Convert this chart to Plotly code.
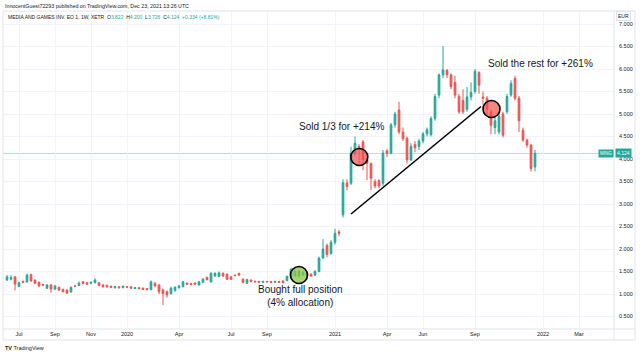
import pandas as pd
import plotly.graph_objects as go

# ---------------- data (weekly candles, XETR: MING) ----------------
week_start = "2019-06-10"
n_weeks = 133
opens = [1.31, 1.33, 1.38, 1.17, 1.28, 1.27, 1.43, 1.31, 1.26, 1.21,
         1.13, 1.20, 1.11, 1.15, 1.10, 1.09, 1.05, 1.18, 1.19, 1.27,
         1.25, 1.24, 1.25, 1.25, 1.20, 1.19, 1.17, 1.14, 1.16, 1.14,
         1.16, 1.16, 1.12, 1.14, 1.13, 1.12, 1.10, 1.24, 1.20, 1.09,
         1.05, 1.01, 1.08, 1.14, 1.16, 1.24, 1.23, 1.24, 1.20, 1.26,
         1.37, 1.27, 1.40, 1.39, 1.46, 1.44, 1.38, 1.42, 1.46, 1.33,
         1.24, 1.31, 1.28, 1.28, 1.26, 1.28, 1.28, 1.26, 1.28, 1.29,
         1.30, 1.36, 1.40, 1.40, 1.42, 1.46, 1.44, 1.42, 1.50, 1.80,
         2.08, 1.90, 2.15, 2.38, 2.76, 3.47, 3.46, 4.13, 4.28, 4.38,
         3.98, 3.90, 3.50, 3.52, 3.46, 4.18, 4.13, 4.76, 5.09, 4.60,
         4.46, 3.98, 4.32, 4.28, 4.40, 4.56, 4.54, 4.90, 5.42, 5.87,
         5.97, 5.87, 5.70, 5.39, 5.30, 5.10, 5.38, 5.50, 5.92, 5.38,
         5.35, 5.05, 4.70, 4.60, 5.00, 5.05, 5.42, 5.79, 5.35, 4.64,
         4.42, 4.31, 3.822]
highs = [1.42, 1.42, 1.40, 1.27, 1.30, 1.45, 1.45, 1.32, 1.28, 1.23,
         1.22, 1.22, 1.19, 1.16, 1.12, 1.10, 1.16, 1.20, 1.28, 1.29,
         1.26, 1.27, 1.35, 1.27, 1.22, 1.21, 1.19, 1.18, 1.17, 1.19,
         1.17, 1.17, 1.16, 1.15, 1.14, 1.13, 1.30, 1.26, 1.22, 1.12,
         1.08, 1.16, 1.17, 1.20, 1.29, 1.26, 1.25, 1.26, 1.29, 1.35,
         1.38, 1.48, 1.48, 1.50, 1.48, 1.46, 1.40, 1.43, 1.47, 1.35,
         1.34, 1.32, 1.30, 1.29, 1.29, 1.29, 1.29, 1.29, 1.29, 1.30,
         1.41, 1.58, 1.55, 1.55, 1.52, 1.48, 1.46, 1.53, 1.83, 2.22,
         2.12, 2.20, 2.45, 2.42, 3.55, 3.55, 4.27, 4.50, 4.33, 4.42,
         4.05, 3.92, 3.55, 3.55, 4.20, 4.22, 4.80, 5.05, 5.27, 4.70,
         4.50, 4.35, 4.40, 4.45, 4.60, 4.70, 4.95, 5.45, 5.90, 6.51,
         6.00, 5.90, 5.85, 5.45, 5.55, 5.60, 5.70, 6.00, 5.95, 5.50,
         5.40, 5.10, 4.95, 5.00, 5.05, 5.45, 5.75, 5.85, 5.40, 4.70,
         4.45, 4.33, 4.200]
lows = [1.29, 1.30, 1.08, 1.15, 1.24, 1.25, 1.27, 1.22, 1.16, 1.18,
        1.11, 1.03, 1.09, 1.07, 1.04, 1.00, 1.02, 1.15, 1.18, 1.21,
        1.20, 1.22, 1.24, 1.17, 1.14, 1.14, 1.13, 1.12, 1.12, 1.13,
        1.13, 1.12, 1.11, 1.10, 1.09, 1.08, 1.08, 1.15, 1.00, 0.75,
        0.92, 0.98, 1.05, 1.12, 1.15, 1.20, 1.19, 1.20, 1.19, 1.24,
        1.30, 1.25, 1.38, 1.37, 1.38, 1.31, 1.31, 1.39, 1.40, 1.24,
        1.22, 1.26, 1.26, 1.25, 1.25, 1.26, 1.25, 1.25, 1.25, 1.24,
        1.28, 1.34, 1.38, 1.37, 1.40, 1.38, 1.38, 1.40, 1.48, 1.78,
        1.82, 1.87, 2.10, 2.28, 2.70, 3.30, 3.42, 4.05, 3.90, 3.75,
        3.53, 3.31, 3.35, 3.35, 3.40, 4.05, 4.10, 4.70, 4.55, 4.40,
        3.90, 3.95, 4.15, 4.20, 4.35, 4.50, 4.50, 4.85, 5.35, 5.80,
        5.80, 5.55, 5.35, 5.00, 5.00, 5.05, 5.30, 5.45, 5.45, 5.20,
        4.95, 4.55, 4.55, 4.55, 4.48, 5.00, 5.38, 5.30, 4.60, 4.38,
        4.25, 3.72, 3.726]
closes = [1.38, 1.36, 1.22, 1.25, 1.26, 1.42, 1.29, 1.24, 1.18, 1.20,
          1.20, 1.11, 1.18, 1.09, 1.05, 1.02, 1.15, 1.17, 1.24, 1.23,
          1.22, 1.26, 1.31, 1.19, 1.16, 1.16, 1.15, 1.16, 1.14, 1.17,
          1.15, 1.13, 1.14, 1.12, 1.10, 1.10, 1.27, 1.18, 1.05, 1.01,
          0.98, 1.13, 1.15, 1.18, 1.27, 1.22, 1.21, 1.22, 1.27, 1.33,
          1.32, 1.46, 1.46, 1.47, 1.40, 1.33, 1.33, 1.41, 1.42, 1.26,
          1.32, 1.28, 1.27, 1.26, 1.28, 1.27, 1.26, 1.28, 1.26, 1.25,
          1.39, 1.55, 1.50, 1.50, 1.48, 1.41, 1.40, 1.50, 1.80, 2.00,
          1.88, 2.15, 2.35, 2.35, 3.47, 3.39, 4.13, 4.35, 4.25, 3.98,
          3.90, 3.57, 3.40, 3.40, 4.13, 4.12, 4.76, 5.00, 4.60, 4.45,
          3.98, 4.28, 4.25, 4.40, 4.56, 4.65, 4.90, 5.39, 5.87, 5.98,
          5.87, 5.61, 5.42, 5.05, 5.05, 5.38, 5.48, 5.95, 5.64, 5.35,
          5.10, 4.75, 4.85, 4.95, 4.53, 5.39, 5.68, 5.35, 4.85, 4.42,
          4.31, 3.79, 4.124]

price_ticks = [0.5, 1.0, 1.5, 2.0, 2.5, 3.0, 3.5, 4.0, 4.5, 5.0, 5.5, 6.0, 6.5, 7.0]
date_ticks = ["2019-07-01", "2019-09-02", "2019-11-04", "2020-01-06", "2020-04-06",
              "2020-07-06", "2020-09-07", "2021-01-04", "2021-04-05", "2021-06-07",
              "2021-09-06", "2022-01-03", "2022-03-07"]
date_labels = ["Jul", "Sep", "Nov", "2020", "Apr", "Jul", "Sep", "2021", "Apr", "Jun",
               "Sep", "2022", "Mar"]
last_price = 4.124

dates = pd.date_range(week_start, periods=n_weeks, freq="7D")

# ---------------- layout helpers (pixel geometry) ----------------
W, H = 640, 355
PL, PR, PT, PB = 3, 614, 12, 329          # plot area in pixels
ORIGIN = pd.Timestamp("2020-01-06")        # date at pixel 127
ORIGIN_PX = 127
PX_PER_DAY = 4 / 7


def px_date(px):
    return ORIGIN + pd.Timedelta(days=(px - ORIGIN_PX) / PX_PER_DAY)


def px_price(py):
    return 7 - (py - 24) / 45


def fx(px):
    return (px - PL) / (PR - PL)


def fy(py):
    return (PB - py) / (PB - PT)


GREEN = "#26a69a"
RED = "#ef5350"
TXT = "#131722"
FONT = "Liberation Sans"

fig = go.Figure()
fig.add_trace(go.Candlestick(
    x=dates, open=opens, high=highs, low=lows, close=closes,
    increasing=dict(line=dict(color=GREEN, width=1), fillcolor=GREEN),
    decreasing=dict(line=dict(color=RED, width=1), fillcolor=RED),
    whiskerwidth=0, showlegend=False, hoverinfo="skip",
))

shapes = []
# last price line
shapes.append(dict(type="line", xref="paper", yref="y", x0=0, x1=1, y0=last_price, y1=last_price,
                   line=dict(color="rgba(38,166,154,0.35)", width=1), layer="below"))
# trend line
shapes.append(dict(type="line", xref="x", yref="y",
                   x0=px_date(351), y0=px_price(214), x1=px_date(481), y1=px_price(106.5),
                   line=dict(color="#000000", width=1.6), layer="above"))
# circles
for cx, cy, fill in [(299, 275, "rgba(139,195,74,0.75)"),
                     (359.3, 157, "rgba(239,83,80,0.7)"),
                     (491.5, 109, "rgba(239,83,80,0.7)")]:
    shapes.append(dict(type="circle", xref="x", yref="y", xsizemode="pixel", ysizemode="pixel",
                       xanchor=px_date(cx), yanchor=px_price(cy), x0=-8.5, x1=8.5, y0=-8.5, y1=8.5,
                       fillcolor=fill, line=dict(color="#000000", width=1.6), layer="above"))
# frame
FR = "#e0e3eb"
for x0, y0, x1, y1 in [(3, 11, 635, 11), (3, 340, 635, 340), (3, 11, 3, 340), (635, 11, 635, 340),
                       (614, 11, 614, 340), (3, 329, 635, 329)]:
    shapes.append(dict(type="line", xref="paper", yref="paper", x0=fx(x0), x1=fx(x1),
                       y0=fy(y0), y1=fy(y1), line=dict(color=FR, width=1), layer="above"))

annotations = []


def note(text, px, py, size, color=TXT, xanchor="center", **kw):
    annotations.append(dict(text=text, x=fx(px), y=fy(py), xref="paper", yref="paper",
                            xanchor=xanchor, yanchor="middle", showarrow=False,
                            font=dict(family=FONT, size=size, color=color), **kw))


note("InnocentGuest72293 published on TradingView.com, Dec 23, 2021 13:26 UTC", 3, 6, 5.3, xanchor="left")
g = lambda v: f"<span style='color:{GREEN}'>{v}</span>"
legend = ("MEDIA AND GAMES INV. EO 1, 1W, XETR  O" + g("3.822") + "  H" + g("4.200") + "  L" + g("3.726")
          + "  C" + g("4.124") + "  " + g("+0.334 (+8.81%)"))
note(legend, 6, 17, 5.0, xanchor="left")
note("<b>TV</b> TradingView", 3, 348, 5.5, xanchor="left")
note("EUR", 623, 16, 5.0, bordercolor=FR, borderwidth=1, borderpad=1, bgcolor="white")
price_py = 24 + (7 - last_price) * 45
note("MING", 606, price_py, 4.5, color="white", bgcolor=GREEN, borderpad=1)
note("4.124", 623.5, price_py, 5.0, color="white", bgcolor=GREEN, borderpad=1)

note("Sold 1/3 for +214%", 341, 127, 10)
note("Sold the rest for +261%", 540, 64, 10)
note("Bought full position<br>(4% allocation)", 300, 296, 10)

fig.update_layout(
    width=W, height=H, autosize=False,
    margin=dict(l=PL, r=W - PR, t=PT, b=H - PB, pad=0),
    paper_bgcolor="white", plot_bgcolor="white",
    boxgap=0.4,
    shapes=shapes, annotations=annotations,
    showlegend=False, hovermode=False,
    xaxis=dict(
        type="date", range=[px_date(PL), px_date(PR)],
        rangeslider=dict(visible=False),
        tickvals=pd.to_datetime(date_ticks), ticktext=date_labels,
        tickfont=dict(family=FONT, size=5.5, color=TXT),
        showgrid=True, gridcolor="#f0f3fa", gridwidth=1,
        zeroline=False, showline=False, ticks="", fixedrange=True,
    ),
    yaxis=dict(
        side="right", range=[px_price(PB), px_price(PT)],
        tickvals=price_ticks, ticktext=[f"{v:.3f}" for v in price_ticks],
        tickfont=dict(family=FONT, size=5.5, color=TXT),
        showgrid=True, gridcolor="#f0f3fa", gridwidth=1,
        zeroline=False, showline=False, ticks="", ticklabelstandoff=4, fixedrange=True,
    ),
)

fig.write_html("out.html", config={"displayModeBar": False, "staticPlot": True},
               post_script="document.body.style.margin='0';")
